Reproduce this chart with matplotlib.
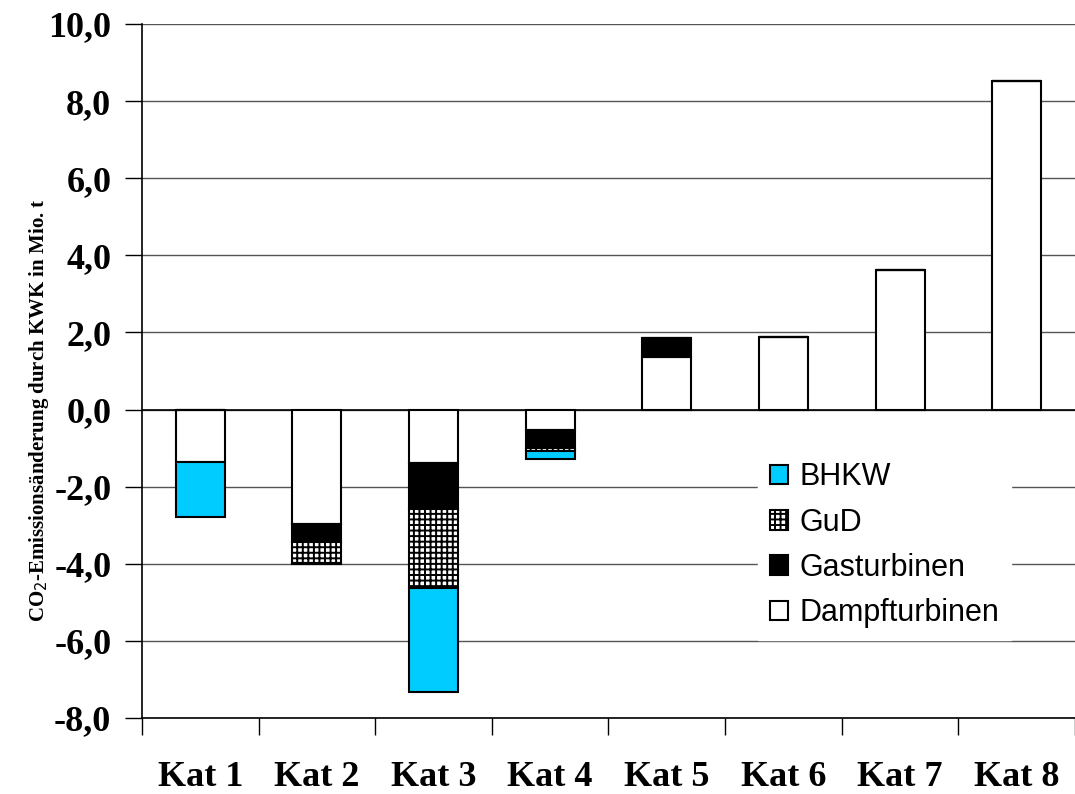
import matplotlib.pyplot as plt
import numpy as np
from matplotlib.ticker import FuncFormatter

# categories and stacked components (Mio. t CO2)
kategorien = ['Kat 1', 'Kat 2', 'Kat 3', 'Kat 4', 'Kat 5', 'Kat 6', 'Kat 7', 'Kat 8']
dampf = [-1.36, -2.98, -1.39, -0.53, 1.36, 1.88, 3.62, 8.52]
gas = [0.0, -0.45, -1.20, -0.46, 0.49, 0.0, 0.0, 0.0]
gud = [0.0, -0.55, -2.05, -0.08, 0.0, 0.0, 0.0, 0.0]
bhkw = [-1.43, -0.03, -2.69, -0.20, 0.0, 0.0, 0.0, 0.0]

serien = [('Dampfturbinen', dampf, 'white', None),
          ('Gasturbinen', gas, 'black', None),
          ('GuD', gud, 'white', '+++'),
          ('BHKW', bhkw, '#00CCFF', None)]

plt.rcParams['hatch.linewidth'] = 1.4

fig = plt.figure(figsize=(10.75, 7.94), dpi=100)
ax = fig.add_axes([0.132, 0.0957, 0.868, 0.874])

x = np.arange(len(kategorien))
pos_base = np.zeros(len(kategorien))
neg_base = np.zeros(len(kategorien))
handles = {}
for name, vals, col, hatch in serien:
    vals = np.array(vals)
    base = np.where(vals >= 0, pos_base, neg_base)
    b = ax.bar(x, vals, 0.42, bottom=base, color=col, edgecolor='black',
               linewidth=1.5, hatch=hatch, zorder=3, label=name)
    handles[name] = b
    pos_base = pos_base + np.where(vals > 0, vals, 0)
    neg_base = neg_base + np.where(vals < 0, vals, 0)

ax.set_xlim(-0.5, len(kategorien) - 0.5)
ax.set_ylim(-8, 10)
ax.set_yticks(np.arange(-8, 11, 2))
ax.yaxis.set_major_formatter(FuncFormatter(lambda v, p: ('%.1f' % v).replace('.', ',')))
ax.grid(axis='y', color='#555555', linewidth=1.0, zorder=0)
ax.axhline(0, color='black', linewidth=1.2, zorder=2)

for s in ['top', 'right']:
    ax.spines[s].set_visible(False)
ax.spines['left'].set_linewidth(1.2)
ax.spines['bottom'].set_linewidth(1.2)

ax.set_xticks(x)
ax.set_xticklabels(kategorien)
ax.set_xticks(np.arange(-0.5, len(kategorien) + 0.5, 1), minor=True)
ax.tick_params(axis='x', which='major', length=0, pad=31)
ax.tick_params(axis='x', which='minor', length=12, width=1.0, direction='out')
ax.tick_params(axis='y', length=12, width=1.0, direction='out', pad=10)

for lab in ax.get_xticklabels() + ax.get_yticklabels():
    lab.set_family('Liberation Serif')
    lab.set_fontweight('bold')
    lab.set_fontsize(26)

ax.set_ylabel('CO$_2$-Emissionsänderung durch KWK in Mio. t', family='Liberation Serif',
              fontweight='bold', fontsize=15)
ax.yaxis.set_label_coords(-0.097, 0.444)

order = ['BHKW', 'GuD', 'Gasturbinen', 'Dampfturbinen']
leg = ax.legend([handles[n] for n in order], order, loc='upper left',
                bbox_to_anchor=(0.66, 0.386), borderaxespad=0, borderpad=0.4,
                frameon=True, framealpha=1, edgecolor='white', fancybox=False,
                handlelength=0.6, handleheight=0.6, handletextpad=0.36,
                labelspacing=0.5, prop={'family': 'Liberation Sans', 'size': 22})
leg.set_zorder(5)

fig.savefig('out.png', dpi=100)
